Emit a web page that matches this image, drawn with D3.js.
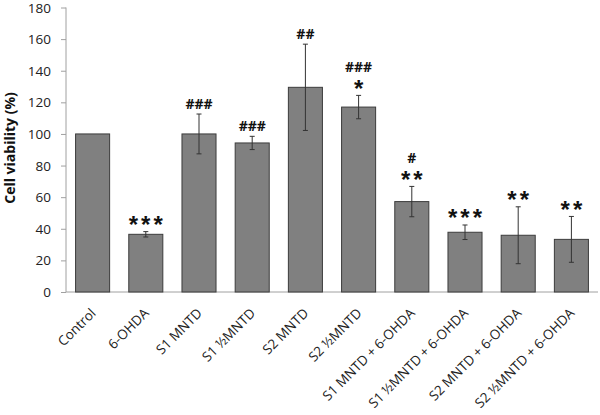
<!DOCTYPE html>
<html><head><meta charset="utf-8">
<script src="https://cdn.jsdelivr.net/npm/d3@7"></script>
<style>body{margin:0;background:#fff}svg{display:block}</style>
</head><body><svg id="c" width="600" height="415"></svg>
<script>
const categories = ["Control","6-OHDA","S1 MNTD","S1 ½MNTD","S2 MNTD","S2 ½MNTD","S1 MNTD + 6-OHDA","S1 ½MNTD + 6-OHDA","S2 MNTD + 6-OHDA","S2 ½MNTD + 6-OHDA"];
const values = [100, 36.5, 100, 94.3, 129.5, 117, 57.2, 37.8, 35.9, 33.3];
const errors = [0, 1.7, 12.6, 4.2, 27.3, 7.4, 9.6, 4.6, 18, 14.5];
const hashLabels = ["", "", "###", "###", "##", "###", "#", "", "", ""];
const starLabels = ["", "***", "", "", "", "*", "**", "***", "**", "**"];
const yTicks = [0,20,40,60,80,100,120,140,160,180];

const svg = d3.select("#c");
const m = {l:66, r:2, t:7.5, b:123};
const W = 600, H = 415;
const x = d3.scaleBand().domain(categories).range([m.l, W - m.r]).paddingInner(0.36).paddingOuter(0.18);
const y = d3.scaleLinear().domain([0,180]).range([H - m.b, m.t]);
const font = "'Open Sans', 'Liberation Sans', sans-serif";
const starFont = "'Liberation Sans', Arial, sans-serif";

// y axis
const ya = svg.append("g").attr("transform", `translate(${m.l},0)`)
  .call(d3.axisLeft(y).tickValues(yTicks).tickSize(5).tickPadding(10).tickFormat(d3.format("d")));
ya.select(".domain").attr("stroke", "#a0a0a0").attr("d", `M0,${y(0)}V${y(180)}`);
ya.selectAll(".tick line").attr("stroke", "#a0a0a0");
ya.selectAll(".tick text").attr("font-family", font).attr("font-size", 13.5).attr("fill", "#222").attr("dy", "0.34em");

// x axis
const xa = svg.append("g").attr("transform", `translate(0,${y(0)})`)
  .call(d3.axisBottom(x).tickSize(0).tickPadding(0));
xa.select(".domain").attr("stroke", "#a0a0a0").attr("d", `M${m.l},0H${W - m.r}`);
xa.selectAll(".tick text")
  .attr("font-family", font).attr("font-size", 13.5).attr("fill", "#222")
  .attr("text-anchor", "end").attr("dy", null).attr("y", 0)
  .attr("transform", "translate(4,22) rotate(-45)");

// bars
svg.append("g").selectAll("rect").data(categories).join("rect")
  .attr("x", d => x(d)).attr("width", x.bandwidth())
  .attr("y", (d,i) => y(values[i])).attr("height", (d,i) => y(0) - y(values[i]))
  .attr("fill", "#808080").attr("stroke", "#3c3c3c").attr("stroke-width", 1);

// error bars
const eg = svg.append("g").attr("stroke", "#333").attr("stroke-width", 1);
categories.forEach((c,i) => {
  if (!errors[i]) return;
  const cx = x(c) + x.bandwidth()/2;
  const y1 = y(values[i] + errors[i]), y2 = y(values[i] - errors[i]);
  eg.append("line").attr("x1", cx).attr("x2", cx).attr("y1", y1).attr("y2", y2);
  eg.append("line").attr("x1", cx-2.5).attr("x2", cx+2.5).attr("y1", y1).attr("y2", y1);
  eg.append("line").attr("x1", cx-2.5).attr("x2", cx+2.5).attr("y1", y2).attr("y2", y2);
});

// annotations
const ag = svg.append("g").attr("font-weight", "bold").attr("text-anchor", "middle").attr("fill", "#111");
categories.forEach((c,i) => {
  const cx = x(c) + x.bandwidth()/2;
  const errTop = y(values[i] + errors[i]);
  let hashBase = errTop - 5;
  if (starLabels[i]) {
    const sb = errTop + 1.5;
    ag.append("text").attr("x", cx + 1.5).attr("y", sb).attr("font-family", starFont).attr("font-size", 24)
      .attr("letter-spacing", 3).text(starLabels[i]);
    hashBase = sb - 25;
  }
  if (hashLabels[i]) {
    ag.append("text").attr("x", cx).attr("y", hashBase).attr("font-family", font).attr("font-size", 14).text(hashLabels[i]);
  }
});

// y label
svg.append("text").attr("transform", `translate(15,148) rotate(-90)`)
  .attr("text-anchor", "middle").attr("font-family", font).attr("font-weight", "bold")
  .attr("font-size", 14).attr("fill", "#111").text("Cell viability (%)");
</script></body></html>
